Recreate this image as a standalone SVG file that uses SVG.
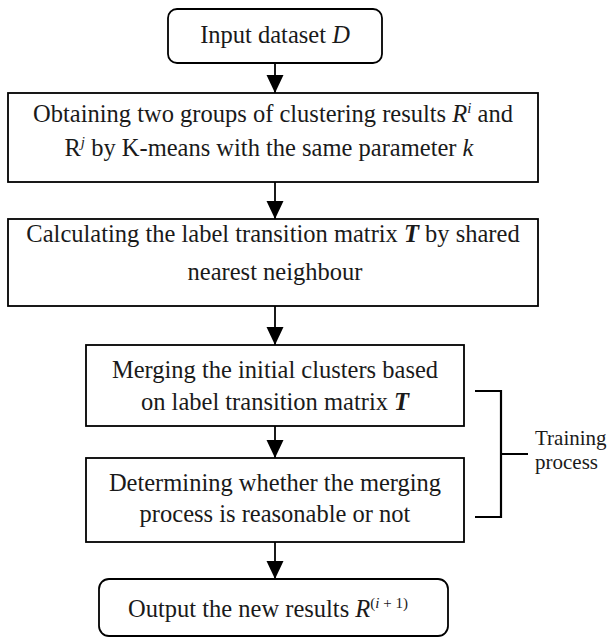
<svg xmlns="http://www.w3.org/2000/svg" width="611" height="639" viewBox="0 0 611 639">
<style>
  .box { fill: #ffffff; stroke: #000000; stroke-width: 1.8; }
  .t { font-family: "Liberation Serif", "Times New Roman", serif; font-size: 24.5px; fill: #1a1a1a; }
  .c { text-anchor: middle; }
  .sup { font-size: 15px; }
  .conn { stroke: #000000; stroke-width: 1.8; fill: none; }
  .br { stroke: #000000; stroke-width: 2.2; fill: none; }
  .side { font-size: 21px; }
</style>
<defs>
  <marker id="ah" viewBox="0 -9 18 18" refX="18" refY="0" markerWidth="18" markerHeight="18" markerUnits="userSpaceOnUse" orient="auto">
    <path d="M0,-8.5 L18,0 L0,8.5 z" fill="#000000"/>
  </marker>
</defs>

<g id="connectors">
  <line class="conn" x1="275" y1="63" x2="275" y2="93" marker-end="url(#ah)"/>
  <line class="conn" x1="275" y1="182" x2="275" y2="219" marker-end="url(#ah)"/>
  <line class="conn" x1="275" y1="306" x2="275" y2="345" marker-end="url(#ah)"/>
  <line class="conn" x1="275" y1="426" x2="275" y2="458" marker-end="url(#ah)"/>
  <line class="conn" x1="275" y1="542" x2="275" y2="579" marker-end="url(#ah)"/>
</g>

<g id="n1">
  <rect class="box" x="168" y="9" width="214" height="54" rx="9"/>
  <text class="t c" x="275" y="43">Input dataset <tspan font-style="italic">D</tspan></text>
</g>

<g id="n2">
  <rect class="box" x="8" y="93" width="530" height="89"/>
  <text class="t c" x="273" y="122">Obtaining two groups of clustering results <tspan font-style="italic">R</tspan><tspan class="sup" font-style="italic" dy="-9">i</tspan><tspan dy="9"> and</tspan></text>
  <text class="t c" x="269" y="156">R<tspan class="sup" font-style="italic" dy="-9">j</tspan><tspan dy="9"> by K-means with the same parameter </tspan><tspan font-style="italic">k</tspan></text>
</g>

<g id="n3">
  <rect class="box" x="8" y="219" width="530" height="87"/>
  <text class="t c" x="273" y="242">Calculating the label transition matrix <tspan font-style="italic" font-weight="bold">T</tspan> by shared</text>
  <text class="t c" x="275" y="280">nearest neighbour</text>
</g>

<g id="n4">
  <rect class="box" x="86" y="345" width="378" height="81"/>
  <text class="t c" x="275" y="378">Merging the initial clusters based</text>
  <text class="t c" x="275" y="410">on label transition matrix <tspan font-style="italic" font-weight="bold">T</tspan></text>
</g>

<g id="n5">
  <rect class="box" x="86" y="458" width="378" height="84"/>
  <text class="t c" x="275" y="491">Determining whether the merging</text>
  <text class="t c" x="275" y="522">process is reasonable or not</text>
</g>

<g id="n6">
  <rect class="box" x="99" y="579" width="349" height="57" rx="10"/>
  <text class="t c" x="268" y="617">Output the new results <tspan font-style="italic">R</tspan><tspan class="sup" dy="-9">(<tspan font-style="italic">i</tspan> + 1)</tspan></text>
</g>

<g id="bracket">
  <path class="br" d="M475,391 H501 V517 H475 M501,454 H528"/>
  <text class="t side" x="535" y="445">Training</text>
  <text class="t side" x="535" y="469">process</text>
</g>
</svg>
